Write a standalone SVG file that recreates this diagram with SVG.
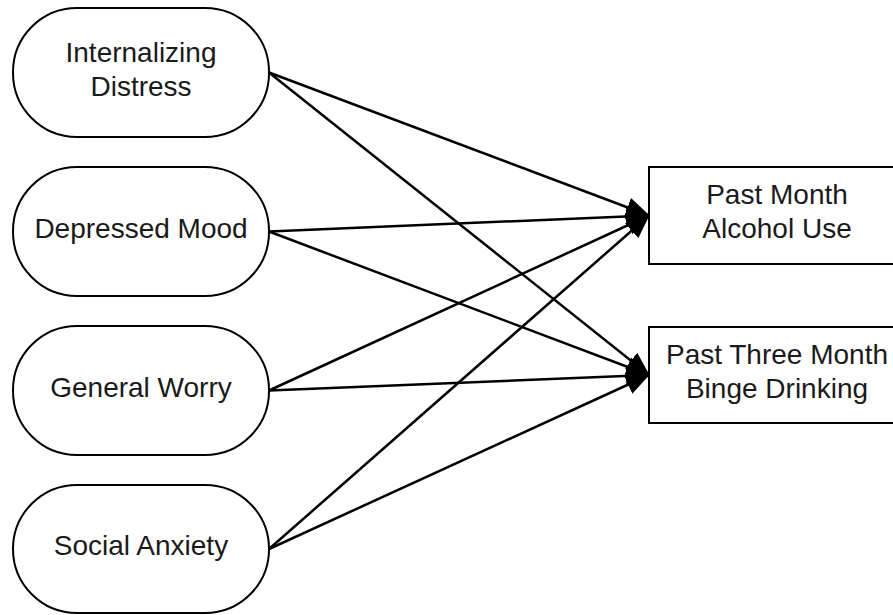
<svg xmlns="http://www.w3.org/2000/svg" width="893" height="615" viewBox="0 0 893 615">
<style>
.node{fill:#fff;stroke:#000;stroke-width:2}
.lbl{font-family:"Liberation Sans",Arial,sans-serif;font-size:28px;fill:#1a1a1a;text-anchor:middle}
.edge{stroke:#000;stroke-width:2.5;fill:none;marker-end:url(#arr)}
</style>
<defs>
<marker id="arr" markerUnits="userSpaceOnUse" markerWidth="24" markerHeight="22" refX="23" refY="11" orient="auto" viewBox="0 0 24 22">
<path d="M0,1 L24,11 L0,21 z" fill="#000"/>
</marker>
</defs>
<rect width="893" height="615" fill="#fff"/>
<g id="connectors">
<line class="edge" x1="269" y1="72.5" x2="649" y2="215.5"/>
<line class="edge" x1="269" y1="72.5" x2="649" y2="375"/>
<line class="edge" x1="269" y1="231.5" x2="649" y2="215.5"/>
<line class="edge" x1="269" y1="231.5" x2="649" y2="375"/>
<line class="edge" x1="269" y1="390.5" x2="649" y2="215.5"/>
<line class="edge" x1="269" y1="390.5" x2="649" y2="375"/>
<line class="edge" x1="269" y1="549" x2="649" y2="215.5"/>
<line class="edge" x1="269" y1="549" x2="649" y2="375"/>
</g>
<g id="internalizing">
<rect class="node" x="13" y="8" width="256" height="129" rx="64" ry="64"/>
<text class="lbl" x="141" y="62">Internalizing</text>
<text class="lbl" x="141" y="95.5">Distress</text>
</g>
<g id="depressed">
<rect class="node" x="13" y="167" width="256" height="129" rx="64" ry="64"/>
<text class="lbl" x="141" y="237.5">Depressed Mood</text>
</g>
<g id="worry">
<rect class="node" x="13" y="326" width="256" height="129" rx="64" ry="64"/>
<text class="lbl" x="141" y="396.5">General Worry</text>
</g>
<g id="social">
<rect class="node" x="13" y="485" width="256" height="128" rx="64" ry="64"/>
<text class="lbl" x="141" y="555">Social Anxiety</text>
</g>
<g id="alcohol">
<rect class="node" x="649" y="167" width="256" height="97"/>
<text class="lbl" x="777" y="204">Past Month</text>
<text class="lbl" x="777" y="238">Alcohol Use</text>
</g>
<g id="binge">
<rect class="node" x="649" y="327" width="256" height="96"/>
<text class="lbl" x="777" y="363.5">Past Three Month</text>
<text class="lbl" x="777" y="398">Binge Drinking</text>
</g>
</svg>
